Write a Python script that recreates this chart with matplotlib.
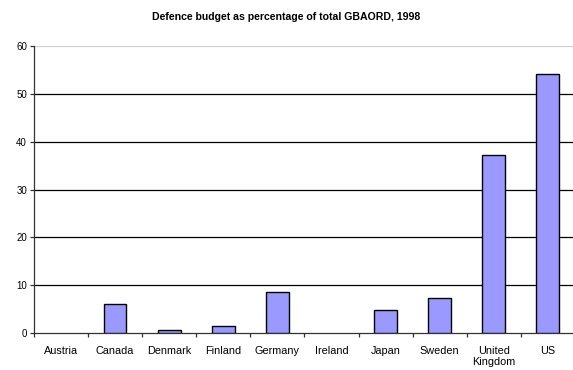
import numpy as np
import matplotlib.pyplot as plt

plt.rcParams['font.family'] = ['Liberation Sans', 'DejaVu Sans']

# defence share of government R&D budget (GBAORD), 1998, in percent
countries = ['Austria', 'Canada', 'Denmark', 'Finland', 'Germany',
             'Ireland', 'Japan', 'Sweden', 'United\nKingdom', 'US']
defence_pct = [0.0, 6.1, 0.6, 1.5, 8.7, 0.0, 4.8, 7.3, 37.1, 54.0]

fig = plt.figure(figsize=(5.73, 3.70), dpi=100)
ax = fig.add_axes([0.0593, 0.099, 0.9440, 0.7775])

x = np.arange(len(countries))
edges = ['black' if v > 0 else 'none' for v in defence_pct]
ax.bar(x, defence_pct, width=0.42, color='#9999FF', edgecolor=edges,
       linewidth=1.0, zorder=3)

ax.set_xlim(-0.5, len(countries) - 0.5)
ax.set_ylim(0, 60)

# horizontal gridlines
for v in range(10, 60, 10):
    ax.axhline(v, color='black', linewidth=0.9, zorder=1)
ax.axhline(60, color='#d0d0d0', linewidth=0.9, zorder=1)

# category boundaries as tick marks, names centred between them
ax.set_xticks(np.arange(-0.5, len(countries), 1.0))
ax.set_xticklabels([])
ax.set_xticks(x, minor=True)
ax.set_xticklabels(countries, minor=True, fontsize=7.8)
ax.tick_params(axis='x', which='major', direction='out', length=3,
               width=0.9, color='#333333')
ax.tick_params(axis='x', which='minor', length=0, pad=9)

ax.set_yticks(range(0, 61, 10))
ax.tick_params(axis='y', direction='out', length=3, width=0.9,
               color='#333333', labelsize=7, pad=2)

for side in ('top', 'right'):
    ax.spines[side].set_visible(False)
for side in ('left', 'bottom'):
    ax.spines[side].set_color('#333333')
    ax.spines[side].set_linewidth(0.9)

fig.text(0.5, 0.955, 'Defence budget as percentage of total GBAORD, 1998',
         ha='center', va='center', fontsize=7.6, fontweight='bold')

fig.savefig('out.png', dpi=100)
